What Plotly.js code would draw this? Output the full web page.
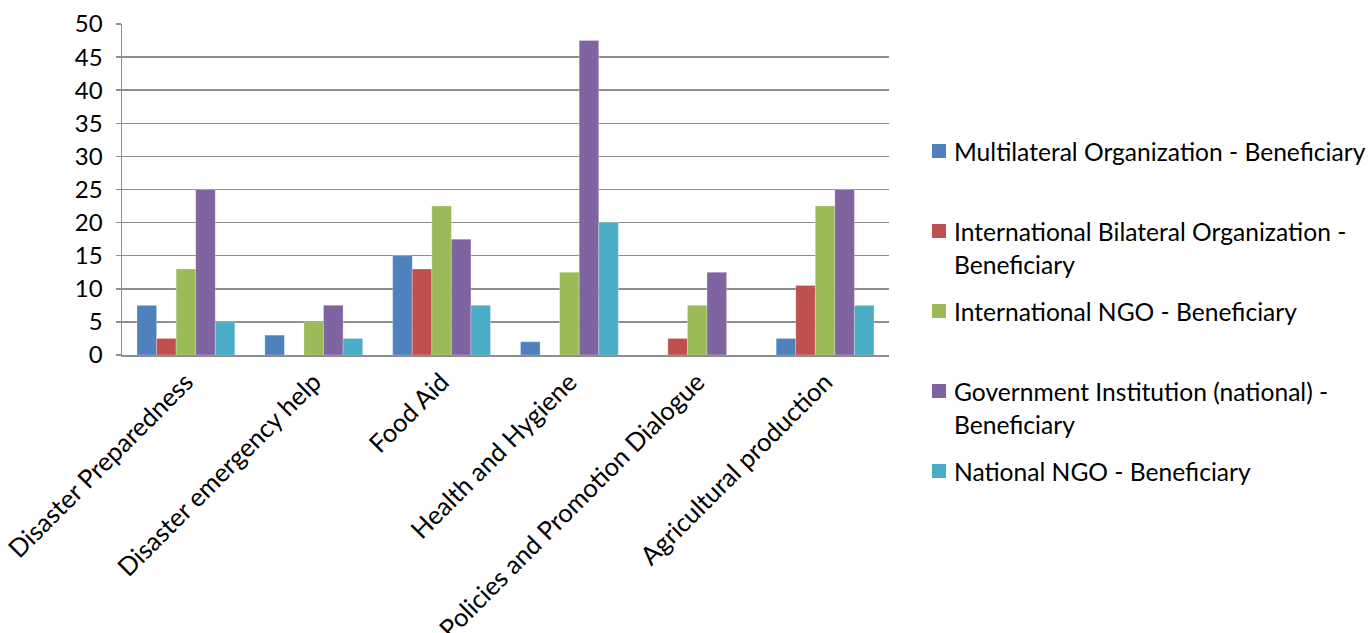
<!DOCTYPE html>
<html>
<head>
<meta charset="utf-8">
<script src="https://cdn.plot.ly/plotly-3.0.1.min.js"></script>
<style>
html,body{margin:0;padding:0;background:#fff;}
#chart{width:1368px;height:633px;}
</style>
</head>
<body>
<div id="chart"></div>
<script>
const categories = ["Disaster Preparedness", "Disaster emergency help", "Food Aid", "Health and Hygiene", "Policies and Promotion Dialogue", "Agricultural production"];
const seriesNames = [
  "Multilateral Organization - Beneficiary",
  "International Bilateral Organization -<br>Beneficiary",
  "International NGO - Beneficiary",
  "Government Institution (national) -<br>Beneficiary",
  "National NGO - Beneficiary"
];
const multilateral = [7.5, 3, 15, 2, 0, 2.5];
const bilateral = [2.5, 0, 13, 0, 2.5, 10.5];
const intlNGO = [13, 5, 22.5, 12.5, 7.5, 22.5];
const government = [25, 7.5, 17.5, 47.5, 12.5, 25];
const nationalNGO = [5, 2.5, 7.5, 20, 0, 7.5];
const yTicks = [0, 5, 10, 15, 20, 25, 30, 35, 40, 45, 50];

const seriesValues = [multilateral, bilateral, intlNGO, government, nationalNGO];
const colors = ["#4F81BD", "#C0504D", "#9BBB59", "#8064A2", "#4BACC6"];
const FONT = "Lato, 'Open Sans', sans-serif";

const traces = seriesValues.map((vals, i) => ({
  type: "bar",
  x: categories,
  y: vals,
  name: seriesNames[i].replace("<br>", " "),
  marker: {color: colors[i], line: {color: "rgba(255,255,255,0.5)", width: 0.5}},
  showlegend: false,
  hoverinfo: "x+y+name"
}));

// plot area geometry (px)
const L = 122, R = 479, T = 24, B = 278, W = 1368, H = 633;
const pw = W - L - R, ph = H - T - B;
const px2x = p => (p - L) / pw;
const py2y = p => (H - B - p) / ph;

const shapes = [];
const annotations = [];
const itemStep = 80, lineStep = 33, firstY = 151;
seriesNames.forEach((nm, i) => {
  const yc = firstY + i * itemStep;
  shapes.push({
    type: "rect", xref: "paper", yref: "paper",
    x0: px2x(932), x1: px2x(946), y0: py2y(yc + 7), y1: py2y(yc - 7),
    fillcolor: colors[i], line: {width: 0}
  });
  nm.split("<br>").forEach((ln, j) => {
    annotations.push({
      xref: "paper", yref: "paper", x: px2x(952), y: py2y(yc + j * lineStep),
      xanchor: "left", yanchor: "middle", showarrow: false, text: ln,
      font: {family: FONT, size: 24.6, color: "#000"}
    });
  });
});

const layout = {
  width: W, height: H,
  margin: {l: L, r: R, t: T, b: B, autoexpand: false},
  paper_bgcolor: "#fff", plot_bgcolor: "#fff",
  barmode: "group",
  bargap: 0.235,
  bargroupgap: 0,
  showlegend: false,
  font: {family: FONT, color: "#000"},
  xaxis: {
    type: "category",
    tickangle: -45,
    tickfont: {family: FONT, size: 25.5, color: "#000"},
    showline: true, linecolor: "#8e8e8e", linewidth: 2,
    ticks: "", showgrid: false, automargin: false,
    zeroline: false
  },
  yaxis: {
    range: [0, 50],
    tickvals: yTicks,
    ticktext: yTicks.map(String),
    tickfont: {family: FONT, size: 24, color: "#000"},
    showline: true, linecolor: "#8e8e8e", linewidth: 1.5,
    ticks: "outside", ticklen: 5, tickcolor: "#8e8e8e", tickwidth: 1.5,
    showgrid: true, gridcolor: "#8e8e8e", gridwidth: 1.5,
    zeroline: false, automargin: false,
    ticklabelstandoff: 8
  },
  shapes: shapes,
  annotations: annotations
};

Plotly.newPlot("chart", traces, layout, {displayModeBar: false, staticPlot: true});
</script>
</body>
</html>
